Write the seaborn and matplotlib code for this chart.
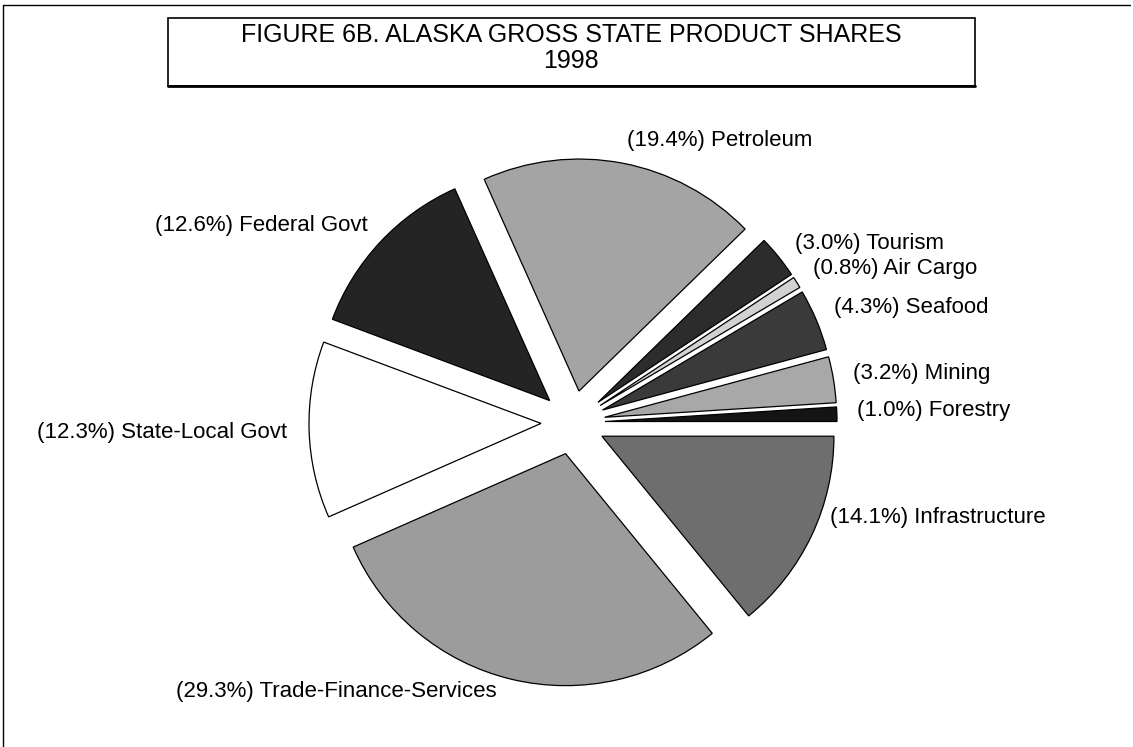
import matplotlib
matplotlib.use('Agg')
import matplotlib.pyplot as plt
from matplotlib.patches import Rectangle
import seaborn as sns

# data (counter-clockwise from 3 o'clock)
sectors = ['Forestry', 'Mining', 'Seafood', 'Air Cargo', 'Tourism', 'Petroleum',
           'Federal Govt', 'State-Local Govt', 'Trade-Finance-Services', 'Infrastructure']
shares = [1.0, 3.2, 4.3, 0.8, 3.0, 19.4, 12.6, 12.3, 29.3, 14.1]
title_lines = ['FIGURE 6B. ALASKA GROSS STATE PRODUCT SHARES', '1998']

# styling
grays = ['#141414', '#a8a8a8', '#3a3a3a', '#d2d2d2', '#2c2c2c',
         '#a4a4a4', '#242424', '#ffffff', '#9c9c9c', '#6e6e6e']
# label anchors in pixels (x, y from top, alignment)
label_pos = [(857, 410, 'left'), (853, 373, 'left'), (834, 307, 'left'),
             (813, 268, 'left'), (795, 243, 'left'), (627, 140, 'left'),
             (368, 225, 'right'), (287, 432, 'right'), (176, 692, 'left'),
             (830, 518, 'left')]

W, H = 1133, 747
cx, cy, rpx = 573, 422.5, 232  # pie centre / radius in pixels


def to_data(px, py):
    return (px - cx) / rpx, (cy - py) / rpx


sns.set_theme(style='white')
plt.rcParams['font.family'] = ['Liberation Sans', 'DejaVu Sans']

fig = plt.figure(figsize=(W / 100, H / 100), dpi=100)
ax = fig.add_axes([0, 0, 1, 1])

wedges, _ = ax.pie(shares, radius=1, startangle=0, counterclock=True,
                   explode=[0.138] * len(shares), colors=grays, frame=True,
                   wedgeprops=dict(edgecolor='black', linewidth=0.9))

x0, y0 = to_data(0, H)
x1, y1 = to_data(W, 0)
ax.set_xlim(x0, x1)
ax.set_ylim(y0, y1)
ax.set_aspect('equal')
ax.axis('off')

# labels
for name, val, (px, py, ha) in zip(sectors, shares, label_pos):
    tx, ty = to_data(px, py)
    ax.text(tx, ty, f'({val:.1f}%) {name}', ha=ha, va='center', fontsize=16, color='black')

# title box
bx0, by0 = to_data(168, 86)
bx1, by1 = to_data(975, 18)
ax.add_patch(Rectangle((bx0, by0), bx1 - bx0, by1 - by0, facecolor='white',
                       edgecolor='black', linewidth=1.2))
ax.plot([bx0, bx1], [by0, by0], color='black', linewidth=2)
for line, py in zip(title_lines, [35, 61]):
    tx, ty = to_data(571, py)
    ax.text(tx, ty, line, ha='center', va='center', fontsize=18, color='black')

# outer frame (top and left edges)
lx0, ly0 = to_data(3, 5)
lx1, ly1 = to_data(1130, H)
ax.plot([lx0, lx1], [ly0, ly0], color='black', linewidth=1)
ax.plot([lx0, lx0], [ly0, ly1], color='black', linewidth=1)

fig.savefig('out.png', dpi=100, facecolor='white')
